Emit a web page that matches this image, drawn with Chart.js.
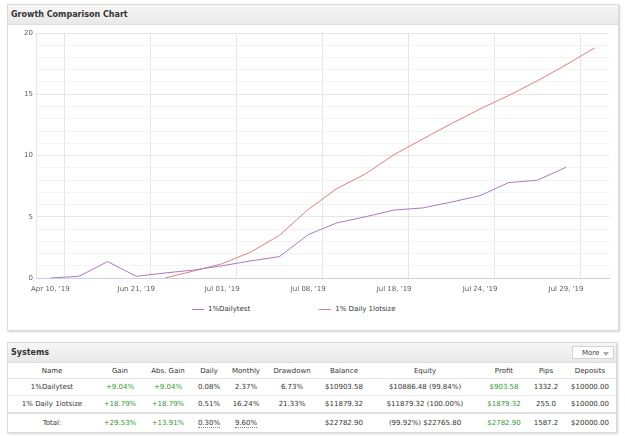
<!DOCTYPE html>
<html>
<head>
<meta charset="utf-8">
<script src="https://cdn.jsdelivr.net/npm/chart.js"></script>
<style>
    body { margin: 0; width: 625px; height: 436px; position: relative; overflow: hidden; background: #fff; font-family: "DejaVu Sans", Verdana, sans-serif; color: #333; }
    .panel { position: absolute; border: 1px solid #dadada; background: #fff; box-shadow: 1px 1px 2px rgba(0,0,0,0.18); box-sizing: border-box; }
    .panel-head { height: 19px; line-height: 19px; padding-left: 3px; font-size: 8px; font-weight: bold; color: #333; background: linear-gradient(#f6f6f6, #e9e9e9); border-bottom: 1px solid #dcdcdc; position: relative; }
    .more-btn { position: absolute; right: 2px; top: 3px; width: 42px; height: 13px; line-height: 13px; border: 1px solid #d4d4d4; background: #fff; font-weight: normal; font-size: 7px; color: #444; box-sizing: border-box; padding-left: 9px; }
    .more-btn .arrow { position: absolute; right: 4px; top: 5px; width: 0; height: 0; border-left: 3px solid transparent; border-right: 3px solid transparent; border-top: 4px solid #aaa; }
    #chartBox { position: absolute; left: 8px; top: 24px; width: 610px; height: 276px; }
    #legend { position: absolute; left: 192px; top: 305px; font-size: 7px; color: #333; white-space: nowrap; }
    #legend .item { display: inline-block; margin-right: 69px; }
    #legend .swatch { display: inline-block; width: 12px; height: 1px; vertical-align: middle; margin-right: 4px; }
    table { border-collapse: collapse; table-layout: fixed; width: 608px; font-size: 7px; }
    td, th { text-align: center; padding: 0; white-space: nowrap; font-weight: normal; }
    th { height: 15px; border-bottom: 1px solid #e6e6e6; }
    tr.row td { height: 16px; border-bottom: 1px solid #e6e6e6; }
    tr.total td { height: 17px; border-top: 2px solid #e0e0e0; }
    .up { color: #2f9a2f; }
    .dotted { border-bottom: 1px dotted #888; }
</style>
</head>
<body>

<div class="panel" style="left:7px; top:4px; width:612px; height:327px;">
    <div class="panel-head">Growth Comparison Chart</div>
</div>
<div id="chartBox"><canvas id="growthChart"></canvas></div>
<div id="legend"></div>

<div class="panel" style="left:7px; top:342px; width:610px; height:91px;">
    <div class="panel-head">Systems<span class="more-btn">More<span class="arrow"></span></span></div>
    <table>
        <colgroup>
            <col style="width:88px"><col style="width:48px"><col style="width:48px"><col style="width:34px">
            <col style="width:40px"><col style="width:52px"><col style="width:52px"><col style="width:110px">
            <col style="width:48px"><col style="width:36px"><col style="width:52px">
        </colgroup>
        <tr>
            <th>Name</th><th>Gain</th><th>Abs. Gain</th><th>Daily</th><th>Monthly</th><th>Drawdown</th>
            <th>Balance</th><th>Equity</th><th>Profit</th><th>Pips</th><th>Deposits</th>
        </tr>
        <tr class="row">
            <td>1%Dailytest</td><td class="up">+9.04%</td><td class="up">+9.04%</td><td>0.08%</td><td>2.37%</td><td>6.73%</td>
            <td>$10903.58</td><td>$10886.48 (99.84%)</td><td class="up">$903.58</td><td>1332.2</td><td>$10000.00</td>
        </tr>
        <tr class="row">
            <td>1% Daily 1lotsize</td><td class="up">+18.79%</td><td class="up">+18.79%</td><td>0.51%</td><td>16.24%</td><td>21.33%</td>
            <td>$11879.32</td><td>$11879.32 (100.00%)</td><td class="up">$1879.32</td><td>255.0</td><td>$10000.00</td>
        </tr>
        <tr class="total">
            <td>Total:</td><td class="up">+29.53%</td><td class="up">+13.91%</td><td><span class="dotted">0.30%</span></td><td><span class="dotted">9.60%</span></td><td></td>
            <td>$22782.90</td><td>(99.92%) $22765.80</td><td class="up">$2782.90</td><td>1587.2</td><td>$20000.00</td>
        </tr>
    </table>
</div>

<script>
// categories (only every third one is labelled on the axis)
const dateLabels = ["Apr 10, '19", "May 06, '19", "Jun 12, '19", "Jun 21, '19", "Jun 25, '19", "Jun 27, '19",
    "Jul 01, '19", "Jul 03, '19", "Jul 05, '19", "Jul 08, '19", "Jul 10, '19", "Jul 15, '19",
    "Jul 18, '19", "Jul 19, '19", "Jul 22, '19", "Jul 24, '19", "Jul 25, '19", "Jul 26, '19",
    "Jul 29, '19", "Jul 30, '19"];

const dailyTestGrowth = [0, 0.14, 1.34, 0.14, 0.41, 0.65, 1.0, 1.4, 1.75, 3.54,
    4.5, 5.0, 5.55, 5.72, 6.2, 6.72, 7.79, 7.98, 9.04, null];

const lotSizeGrowth = [null, null, null, null, 0, 0.57, 1.17, 2.12, 3.49, 5.6,
    7.3, 8.5, 10.07, 11.35, 12.6, 13.8, 14.9, 16.1, 17.4, 18.79];

const seriesNames = ['1%Dailytest', '1% Daily 1lotsize'];
const seriesColors = ['#a77cbc', '#e67e7e'];
const labelEvery = 3;

Chart.defaults.font.family = '"DejaVu Sans", Verdana, sans-serif';
Chart.defaults.font.size = 7;
Chart.defaults.color = '#606060';

const chart = new Chart(document.getElementById('growthChart'), {
    type: 'line',
    data: {
        labels: dateLabels,
        datasets: [
            {
                label: seriesNames[0],
                data: dailyTestGrowth,
                borderColor: seriesColors[0],
                backgroundColor: seriesColors[0],
                borderWidth: 1,
                pointRadius: 0,
                tension: 0
            },
            {
                label: seriesNames[1],
                data: lotSizeGrowth,
                borderColor: seriesColors[1],
                backgroundColor: seriesColors[1],
                borderWidth: 1,
                pointRadius: 0,
                tension: 0
            }
        ]
    },
    options: {
        responsive: true,
        maintainAspectRatio: false,
        animation: false,
        layout: { padding: { top: 9, right: 9, left: 0, bottom: 0 } },
        plugins: {
            legend: { display: false },
            tooltip: { enabled: false }
        },
        scales: {
            x: {
                offset: true,
                grid: {
                    offset: true,
                    drawTicks: false,
                    color: (ctx) => (ctx.index === 0 || ctx.index === dateLabels.length || ctx.index % labelEvery === 1) ? '#e6e6e6' : 'rgba(0,0,0,0)'
                },
                border: { color: '#c8d2e6' },
                ticks: {
                    autoSkip: false,
                    maxRotation: 0,
                    padding: 7,
                    callback: function(value, index) {
                        return index % labelEvery === 0 ? this.getLabelForValue(value) : '';
                    }
                },
                afterFit: (scale) => { scale.height = 22; }
            },
            y: {
                min: 0,
                max: 20,
                grid: {
                    drawTicks: false,
                    color: (ctx) => ctx.tick && ctx.tick.value % 5 === 0 ? '#e6e6e6' : '#f3f3f3'
                },
                border: { display: false },
                ticks: {
                    stepSize: 1,
                    padding: 3,
                    callback: (value) => value % 5 === 0 ? value : ''
                },
                afterFit: (scale) => { scale.width = 28; }
            }
        }
    }
});

// legend built from the datasets
const legendBox = document.getElementById('legend');
chart.data.datasets.forEach(ds => {
    const item = document.createElement('span');
    item.className = 'item';
    const swatch = document.createElement('span');
    swatch.className = 'swatch';
    swatch.style.background = ds.borderColor;
    item.appendChild(swatch);
    item.appendChild(document.createTextNode(ds.label));
    legendBox.appendChild(item);
});
</script>
</body>
</html>
